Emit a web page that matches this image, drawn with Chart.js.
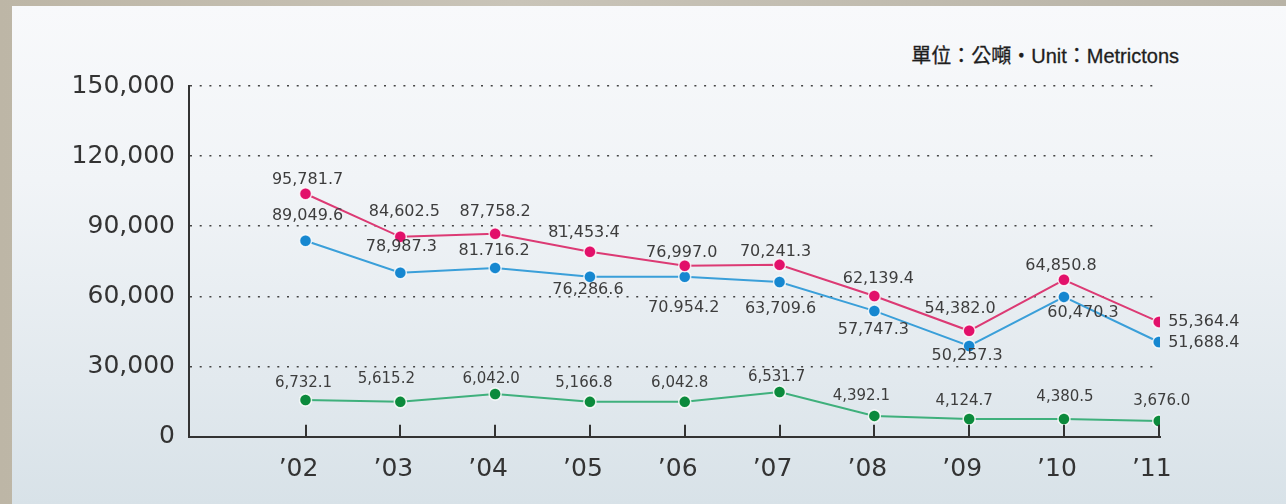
<!DOCTYPE html>
<html>
<head>
<meta charset="utf-8">
<script src="https://cdn.jsdelivr.net/npm/chart.js@4/dist/chart.umd.min.js"></script>
<style>
    html, body {
        margin: 0;
        padding: 0;
    }
    body {
        width: 1286px;
        height: 504px;
        position: relative;
        overflow: hidden;
        background: linear-gradient(90deg, #bdb6a6, #c9c4b8 40%, #b8b3a6);
    }
    #panel {
        position: absolute;
        left: 12px;
        top: 6px;
        right: 0;
        bottom: 0;
        background: linear-gradient(180deg, #f8f9fb 0%, #f1f4f7 35%, #e2e9ee 75%, #d8e2e8 100%);
    }
    #unit {
        position: absolute;
        top: 44px;
        right: 107px;
        font: 20px 'Liberation Sans', 'Noto Sans CJK TC', sans-serif;
        line-height: 24px;
        color: #1e1e1e;
        white-space: nowrap;
        -webkit-text-stroke: 0.3px #1e1e1e;
    }
    #chartBox {
        position: absolute;
        left: 0;
        top: 0;
        width: 1286px;
        height: 504px;
    }
</style>
</head>
<body>
<div id="panel"></div>
<div id="unit">單位：公噸・Unit：Metrictons</div>
<div id="chartBox"><canvas id="lineChart" width="1286" height="504"></canvas></div>

<script>
// years on the x axis and their printed labels
const years = [2002, 2003, 2004, 2005, 2006, 2007, 2008, 2009, 2010, 2011];
const yearLabels = ['’02', '’03', '’04', '’05', '’06', '’07', '’08', '’09', '’10', '’11'];
const yTicks = [0, 30000, 60000, 90000, 120000, 150000];

// plotted heights
const redSeries = [103900, 85500, 86800, 79100, 73100, 73500, 60200, 45300, 67100, 49100];
const blueSeries = [83800, 70100, 72200, 68400, 68400, 66200, 53800, 38800, 59800, 40500];
const greenSeries = [15700, 14900, 18300, 14900, 14900, 19100, 8900, 7600, 7600, 6700];

// the figures printed next to each point
const redLabels = ['95,781.7', '84,602.5', '87,758.2', '81,453.4', '76,997.0', '70,241.3', '62,139.4', '54,382.0', '64,850.8', '55,364.4'];
const blueLabels = ['89,049.6', '78,987.3', '81.716.2', '76,286.6', '70.954.2', '63,709.6', '57,747.3', '50,257.3', '60,470.3', '51,688.4'];
const greenLabels = ['6,732.1', '5,615.2', '6,042.0', '5,166.8', '6,042.8', '6,531.7', '4,392.1', '4,124.7', '4,380.5', '3,676.0'];

// label placement relative to its point, in px
const redLabelShift = [[2, -14], [4, -25], [0, -22], [-6, -19], [-3, -13], [-4, -13], [4, -17], [-9, -22], [-3, -14], [45, 0]];
const blueLabelShift = [[2, -25], [1, -26], [-1, -17], [-2, 13], [-1, 31], [1, 27], [-1, 19], [-2, 10], [19, 16], [45, 1]];
const greenLabelShift = [[-2, -17], [-14, -23], [-4, -15], [-6, -19], [-5, -19], [-3, -15], [-13, -20], [-5, -18], [1, -22], [3, -20]];

function toPoints(values) {
    return values.map((v, i) => ({ x: years[i], y: v }));
}

const pointLabels = {
    id: 'pointLabels',
    afterDatasetsDraw(chart) {
        const ctx = chart.ctx;
        const sets = [
            { labels: redLabels, shift: redLabelShift, size: 16 },
            { labels: blueLabels, shift: blueLabelShift, size: 16 },
            { labels: greenLabels, shift: greenLabelShift, size: 15 },
        ];
        ctx.save();
        ctx.fillStyle = '#3d3d3d';
        ctx.textAlign = 'center';
        ctx.textBaseline = 'middle';
        sets.forEach((s, d) => {
            ctx.font = s.size + 'px "DejaVu Sans"';
            chart.getDatasetMeta(d).data.forEach((pt, i) => {
                ctx.fillText(s.labels[i], pt.x + s.shift[i][0], pt.y + s.shift[i][1]);
            });
        });
        ctx.restore();
    },
};

// small tick marks pointing up from the x axis
const innerTicks = {
    id: 'innerTicks',
    afterDraw(chart) {
        const ctx = chart.ctx;
        const xs = chart.scales.x;
        const bottom = chart.chartArea.bottom;
        ctx.save();
        ctx.strokeStyle = '#333';
        ctx.lineWidth = 2;
        years.forEach((yr) => {
            const px = Math.round(xs.getPixelForValue(yr));
            ctx.beginPath();
            ctx.moveTo(px, bottom - 12);
            ctx.lineTo(px, bottom);
            ctx.stroke();
        });
        ctx.restore();
    },
};

const ctx = document.getElementById('lineChart').getContext('2d');
new Chart(ctx, {
    type: 'line',
    data: {
        datasets: [
            {
                data: toPoints(redSeries),
                borderColor: '#dc3a74',
                pointBackgroundColor: '#e2106a',
                pointBorderColor: 'rgba(255,255,255,0.8)',
            },
            {
                data: toPoints(blueSeries),
                borderColor: '#3a9fd9',
                pointBackgroundColor: '#1687d0',
                pointBorderColor: 'rgba(255,255,255,0.8)',
            },
            {
                data: toPoints(greenSeries),
                borderColor: '#3fb07c',
                pointBackgroundColor: '#0b8a3c',
                pointBorderColor: 'rgba(255,255,255,0.85)',
            },
        ],
    },
    options: {
        responsive: false,
        animation: false,
        devicePixelRatio: 1,
        layout: {
            padding: { left: 0, top: 86, right: 126, bottom: 0 },
        },
        elements: {
            line: { borderWidth: 2, tension: 0 },
            point: { radius: 6, borderWidth: 1.5 },
        },
        scales: {
            x: {
                type: 'linear',
                min: 2000.771,
                max: 2011.013,
                afterBuildTicks: (scale) => {
                    scale.ticks = years.map((v) => ({ value: v }));
                },
                afterFit: (scale) => {
                    scale.height = 67.3;
                },
                grid: { display: false },
                border: { display: true, color: '#333', width: 2 },
                ticks: {
                    padding: 10,
                    labelOffset: -7,
                    color: '#333',
                    font: { family: 'DejaVu Sans', size: 25 },
                    callback: (v) => yearLabels[years.indexOf(v)],
                },
            },
            y: {
                min: 0,
                max: 150000,
                afterBuildTicks: (scale) => {
                    scale.ticks = yTicks.map((v) => ({ value: v }));
                },
                afterFit: (scale) => {
                    scale.width = 189;
                },
                grid: {
                    color: (c) => (c.tick && c.tick.value === 0 ? 'rgba(0,0,0,0)' : '#444'),
                    lineWidth: 1.6,
                    drawTicks: false,
                },
                border: { display: true, color: '#333', width: 2, dash: [2, 7.7] },
                ticks: {
                    padding: 14,
                    color: '#333',
                    font: { family: 'DejaVu Sans', size: 25 },
                    callback: (v) => v.toLocaleString('en-US'),
                },
            },
        },
        plugins: {
            legend: { display: false },
            tooltip: { enabled: false },
        },
    },
    plugins: [pointLabels, innerTicks],
});
</script>
</body>
</html>
